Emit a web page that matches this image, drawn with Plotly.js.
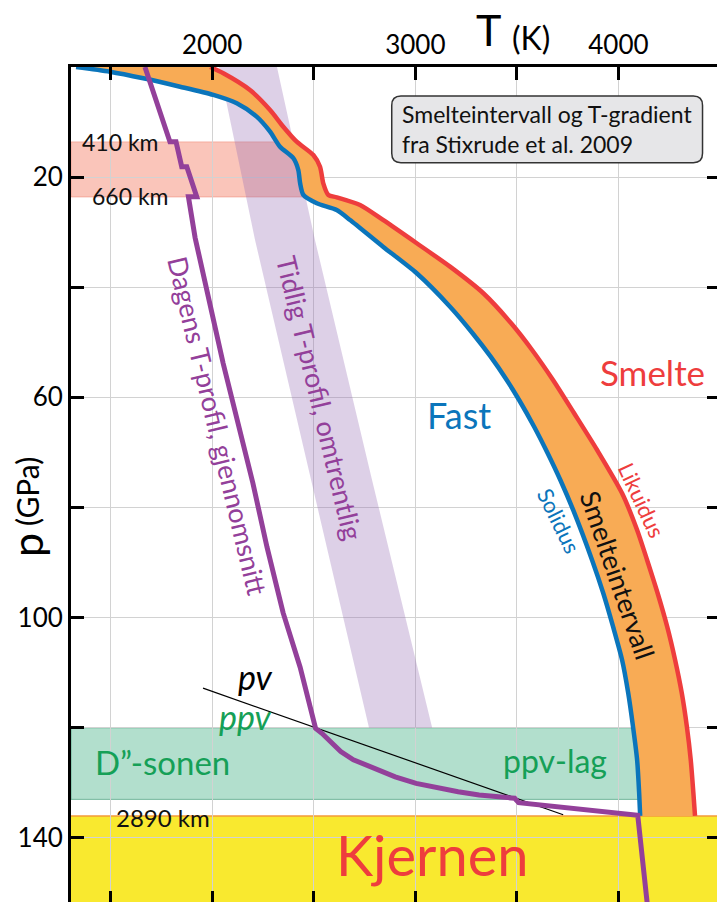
<!DOCTYPE html>
<html>
<head>
<meta charset="utf-8">
<script src="https://cdn.plot.ly/plotly-3.0.1.min.js"></script>
<style>
  html, body { margin: 0; padding: 0; overflow: hidden; background: #ffffff; }
  #chart { width: 722px; height: 906px; }
</style>
</head>
<body>
<div id="chart"></div>
<script>
// Melting interval of the mantle (Stixrude et al. 2009) and mantle temperature profiles.
// Pressure p in GPa (down), temperature T in K (across).

// Solidus curve
const solidusP = [0, 0.85, 2.05, 3.58, 5.08, 6.59, 9.02, 11.75, 14.47, 16.58, 18.7, 21.12, 23.24, 24.75, 25.97, 27.78,
                  32.63, 37.46, 43.53, 48.30, 52.61, 56.84, 60.47, 65.32, 70.09, 75.0, 80.44, 89.52, 95.52,
                  101.69, 107.68, 113.67, 119.85, 125.84, 131.83, 136];
const solidusT = [1330, 1497, 1661, 1842, 2006, 2121, 2219, 2285, 2334, 2400, 2424, 2433, 2449, 2515, 2613, 2679,
                  2841, 3007, 3171, 3281, 3371, 3450, 3511, 3585, 3651, 3714, 3777, 3870, 3925,
                  3974, 4018, 4048, 4072, 4092, 4102, 4107];

// Liquidus curve
const liquidusP = [0, 1.14, 4.18, 7.81, 10.84, 13.56, 15.98, 18.1, 21.12, 23.24, 23.66, 25.06, 27.78,
                   32.01, 36.26, 41.09, 46.54, 51.39, 56.84, 62.88, 69.55, 77.41, 84.08, 89.52, 95.57,
                   101.64, 107.69, 113.73, 119.8, 125.84, 131.89, 136];
const liquidusT = [1990, 2055, 2186, 2285, 2350, 2416, 2498, 2531, 2547, 2572, 2613, 2728, 2841,
                   3007, 3171, 3335, 3472, 3575, 3678, 3782, 3895, 4018, 4092, 4141, 4193,
                   4240, 4279, 4312, 4337, 4356, 4369, 4377];

// Present-day average temperature profile (with jumps at 410, 520 and 660 km)
const profileP = [0, 13.56, 13.56, 18.1, 18.1, 23.55, 23.55, 31.0, 53.8, 75.5, 87.2, 99.1, 109.0, 120.1,
                  121.0, 122.5, 124.3, 125.8, 127.3, 128.9, 130.1, 130.9, 131.6, 132.2, 132.8, 133.6, 135.9, 152];
const profileT = [1669, 1792, 1822, 1850, 1875, 1924, 1883, 1916, 2054, 2200, 2270, 2349, 2433, 2509,
                  2540, 2581, 2633, 2695, 2798, 2901, 3004, 3107, 3211, 3314, 3489, 3509, 4095, 4142];

// Early, approximate temperature profile (band)
const earlyP = [0, 31.4, 75, 120];
const earlyLowT = [2034, 2211, 2487, 2772];
const earlyHighT = [2319, 2506, 2787, 3083];

// Perovskite / post-perovskite phase boundary
const pvBoundaryT = [1955, 3728];
const pvBoundaryP = [112.8, 135.8];

// Layer depths in GPa
const transitionZone = [13.6, 23.6];   // 410 km – 660 km
const dDoublePrime = [120, 133];       // D'' layer
const coreMantleP = 136;               // 2890 km

// Axis ticks
const tempTicks = [1500, 2000, 2500, 3000, 3500, 4000];
const tempTickText = ['', '2000', '', '3000', '', '4000'];
const presTicks = [20, 40, 60, 80, 100, 120, 140];
const presTickText = ['20', '', '60', '', '100', '', '140'];

const T_RANGE = [1305, 4500];
const P_RANGE = [152, 0];

const FONT = 'Lato, "Open Sans", sans-serif';
const PURPLE = '#93409a';
const GREEN = '#15a057';
const RED = '#ee3d3d';
const BLUE = '#0b75bb';

function solidusAt(p) {
  for (let i = 1; i < solidusP.length; i++) {
    if (p <= solidusP[i]) {
      const f = (p - solidusP[i - 1]) / (solidusP[i] - solidusP[i - 1]);
      return solidusT[i - 1] + f * (solidusT[i] - solidusT[i - 1]);
    }
  }
  return solidusT[solidusT.length - 1];
}

// Horizontal layer from the left edge to the solidus
function layerToSolidus(pTop, pBottom) {
  let d = `M ${T_RANGE[0]},${pTop} L ${solidusAt(pTop)},${pTop}`;
  for (let i = 0; i < solidusP.length; i++) {
    if (solidusP[i] > pTop && solidusP[i] < pBottom) d += ` L ${solidusT[i]},${solidusP[i]}`;
  }
  d += ` L ${solidusAt(pBottom)},${pBottom} L ${T_RANGE[0]},${pBottom} Z`;
  return d;
}

function roundedBox(x0, x1, y0, y1, rx, ry) {
  return `M ${x0 + rx},${y0} L ${x1 - rx},${y0} Q ${x1},${y0} ${x1},${y0 + ry} ` +
         `L ${x1},${y1 - ry} Q ${x1},${y1} ${x1 - rx},${y1} L ${x0 + rx},${y1} ` +
         `Q ${x0},${y1} ${x0},${y1 - ry} L ${x0},${y0 + ry} Q ${x0},${y0} ${x0 + rx},${y0} Z`;
}

const traces = [
  { // early temperature band
    x: earlyLowT.concat(earlyHighT.slice().reverse()),
    y: earlyP.concat(earlyP.slice().reverse()),
    mode: 'lines', fill: 'toself', fillcolor: 'rgba(150,110,180,0.32)',
    line: { width: 0 }, hoverinfo: 'skip'
  },
  { // solidus
    x: solidusT, y: solidusP, mode: 'lines',
    line: { color: BLUE, width: 4.5, shape: 'spline', smoothing: 0.7 }
  },
  { // liquidus, melting interval filled back to the solidus
    x: liquidusT, y: liquidusP, mode: 'lines', fill: 'tonextx', fillcolor: '#f8ab55',
    line: { color: RED, width: 4.5, shape: 'spline', smoothing: 0.7 }
  },
  { x: pvBoundaryT, y: pvBoundaryP, mode: 'lines', line: { color: '#000000', width: 1.2 } },
  { x: profileT, y: profileP, mode: 'lines', line: { color: PURPLE, width: 5 } }
];

const shapes = [
  { type: 'path', layer: 'below', path: layerToSolidus(transitionZone[0], transitionZone[1]),
    fillcolor: 'rgba(245,150,130,0.55)', line: { color: 'rgba(240,130,110,0.5)', width: 1 } },
  { type: 'path', layer: 'below', path: layerToSolidus(dDoublePrime[0], dDoublePrime[1]),
    fillcolor: 'rgba(0,150,90,0.3)', line: { color: 'rgba(0,120,70,0.45)', width: 1 } },
  { type: 'rect', layer: 'below', xref: 'paper', x0: 0, x1: 1, y0: coreMantleP, y1: P_RANGE[0],
    fillcolor: '#f9e92f', line: { width: 0 } },
  { type: 'line', layer: 'below', xref: 'paper', x0: 0, x1: 1, y0: coreMantleP, y1: coreMantleP,
    line: { color: '#f39a3a', width: 1.5 } },
  { type: 'path', layer: 'above', path: roundedBox(2884, 4414, 5.27, 17.38, 45, 1.7),
    fillcolor: '#e6e6e8', line: { color: '#333333', width: 1.5 } }
];

function label(text, x, y, size, color, extra) {
  return Object.assign({ text: text, x: x, y: y, xref: 'x', yref: 'y', showarrow: false,
    xanchor: 'center', yanchor: 'middle', font: { family: FONT, size: size, color: color } }, extra || {});
}

const annotations = [
  // axis titles
  { text: 'T', xref: 'paper', yref: 'paper', x: (488 - 71) / 649, y: 1 + (67 - 30) / 837,
    showarrow: false, xanchor: 'center', yanchor: 'middle', font: { family: FONT, size: 43, color: '#000' } },
  { text: '(K)', xref: 'paper', yref: 'paper', x: (531 - 71) / 649, y: 1 + (67 - 37) / 837,
    showarrow: false, xanchor: 'center', yanchor: 'middle', font: { family: FONT, size: 32, color: '#000' } },
  { text: 'p', xref: 'paper', yref: 'paper', x: (26 - 71) / 649, y: 1 - (545 - 67) / 837, textangle: -90,
    showarrow: false, xanchor: 'center', yanchor: 'middle', font: { family: FONT, size: 43, color: '#000' } },
  { text: '(GPa)', xref: 'paper', yref: 'paper', x: (27 - 71) / 649, y: 1 - (492 - 67) / 837, textangle: -90,
    showarrow: false, xanchor: 'center', yanchor: 'middle', font: { family: FONT, size: 30, color: '#000' } },

  // source note
  label('Smelteintervall og T-gradient<br>fra Stixrude et al. 2009', 2925, 11.2, 23, '#111',
        { xanchor: 'left', align: 'left' }),

  // layers
  label('410 km', 1551, 13.6, 23, '#111'),
  label('660 km', 1600, 23.5, 23, '#111'),
  label('2890 km', 1758, 136.2, 24, '#111'),
  label('Kjernen', 3083, 143.1, 56, RED),
  label('D\u201d-sonen', 1753, 126.2, 33, GREEN),
  label('ppv-lag', 3688, 126.0, 32, GREEN),
  label('<i>pv</i>', 2211, 110.6, 34, '#000'),
  label('<i>ppv</i>', 2162, 117.9, 34, GREEN),

  // regions and curves
  label('Fast', 3216, 63.2, 36, BLUE),
  label('Smelte', 4170, 55.4, 35, RED),
  label('Smelteintervall', 3996, 92.2, 27, '#111', { textangle: 71 }),
  label('Likuidus', 4112, 78.6, 22, RED, { textangle: 65 }),
  label('Solidus', 3708, 82.3, 22, BLUE, { textangle: 64 }),

  // temperature profiles
  label('Dagens T-profil, gjennomsnitt', 2030, 65.2, 27, PURPLE, { textangle: 76.5 }),
  label('Tidlig T-profil, omtrentlig', 2531, 60.0, 27, PURPLE, { textangle: 76.5 })
];

const axisCommon = {
  showline: true, linecolor: '#000', linewidth: 3,
  ticks: 'inside', ticklen: 13, tickwidth: 3, tickcolor: '#000',
  mirror: 'ticks', showgrid: true, gridcolor: '#d2d2d2', gridwidth: 1,
  zeroline: false, tickfont: { family: FONT, size: 26, color: '#000' }
};

const layout = {
  width: 722, height: 906,
  margin: { l: 71, r: 2, t: 67, b: 2 },
  paper_bgcolor: '#ffffff', plot_bgcolor: '#ffffff',
  showlegend: false, hovermode: false,
  xaxis: Object.assign({}, axisCommon, {
    side: 'top', range: T_RANGE, tickmode: 'array', tickvals: tempTicks, ticktext: tempTickText
  }),
  yaxis: Object.assign({}, axisCommon, {
    range: P_RANGE, tickmode: 'array', tickvals: presTicks, ticktext: presTickText
  }),
  shapes: shapes,
  annotations: annotations
};

Plotly.newPlot('chart', traces, layout, { staticPlot: true, displayModeBar: false });
</script>
</body>
</html>
